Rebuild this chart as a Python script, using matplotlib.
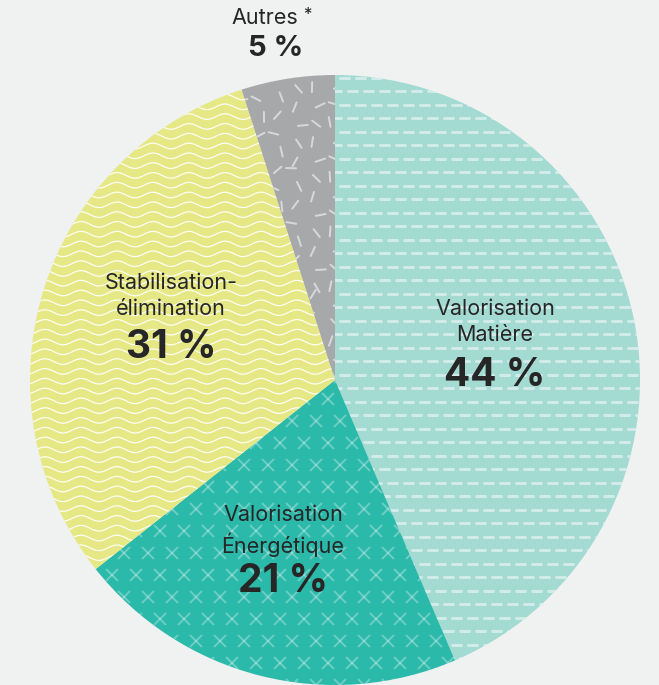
import numpy as np
import matplotlib.pyplot as plt
from matplotlib.collections import LineCollection

# parts du pie, dans le sens horaire depuis le haut
labels = ['Valorisation\nMatière', 'Valorisation\nÉnergétique', 'Stabilisation-\nélimination', 'Autres']
values = [44, 21, 31, 5]
colors = ['#a3dad2', '#2bb9aa', '#e6e886', '#a6a8a9']

W, H = 659, 685
cx, cy, R = 335, H - 380, 305
txt = '#262626'
plt.rcParams['font.family'] = ['Inter', 'DejaVu Sans']

fig = plt.figure(figsize=(W / 100, H / 100), dpi=100)
fig.patch.set_facecolor('#f0f1f1')
ax = fig.add_axes([0, 0, 1, 1])

wedges, _ = ax.pie(values, colors=colors, startangle=90, counterclock=False,
                   center=(cx, cy), radius=R, wedgeprops=dict(linewidth=0))
ax.set_xlim(0, W)
ax.set_ylim(0, H)
ax.set_aspect('equal')
ax.axis('off')

px = 72 / 100  # 1 pixel en points

# motif tirets - Valorisation Matière
segs = []
for k, y in enumerate(np.arange(0, H, 13.5)):
    off = 8 if k % 2 else 0
    for x in np.arange(-20 + off, W, 16):
        segs.append([(x, y), (x + 9, y)])
lc = LineCollection(segs, colors='white', alpha=0.5, linewidths=3 * px, capstyle='round')
ax.add_collection(lc)
lc.set_clip_path(wedges[0])

# motif croix - Valorisation Énergétique
segs = []
for k, y in enumerate(np.arange(0, H, 22)):
    off = 12 if k % 2 else 0
    for x in np.arange(-20 + off, W, 24):
        s = 6
        segs.append([(x - s, y - s), (x + s, y + s)])
        segs.append([(x - s, y + s), (x + s, y - s)])
lc = LineCollection(segs, colors='white', alpha=0.3, linewidths=2 * px)
ax.add_collection(lc)
lc.set_clip_path(wedges[1])

# motif vagues - Stabilisation-élimination
xs = np.linspace(0, W, 600)
segs = [np.column_stack([xs, y + 2.8 * np.sin(2 * np.pi * xs / 36)]) for y in np.arange(0, H, 9.8)]
lc = LineCollection(segs, colors='white', alpha=0.95, linewidths=1.2 * px)
ax.add_collection(lc)
lc.set_clip_path(wedges[2])

# motif confettis - Autres
segs = []
g = 0.618034
n = 0
for y in np.arange(H - 390, H - 60, 18):
    for x in np.arange(225, 345, 18):
        n += 1
        jx = ((n * g) % 1 - 0.5) * 12
        jy = ((n * g * g * 3) % 1 - 0.5) * 12
        a = (n * 2.39996) % np.pi
        dx, dy = 5 * np.cos(a), 5 * np.sin(a)
        segs.append([(x + jx - dx, y + jy - dy), (x + jx + dx, y + jy + dy)])
lc = LineCollection(segs, colors='#dcdddd', alpha=0.9, linewidths=2 * px, capstyle='round')
ax.add_collection(lc)
lc.set_clip_path(wedges[3])

# étiquettes
def label(x, y, name, pct, dy_pct):
    ax.text(x, H - y, name, ha='center', va='center', fontsize=15.5, color=txt, linespacing=1.4)
    ax.text(x, H - y - dy_pct, pct, ha='center', va='center', fontsize=28, fontweight='bold', color=txt)

label(495, 322, labels[0], f'{values[0]} %', 53)
label(283, 531, labels[1], f'{values[1]} %', 51)
label(171, 296, labels[2], f'{values[2]} %', 51)
ax.text(265, H - 18, labels[3], ha='center', va='center', fontsize=15.5, color=txt)
ax.text(307, H - 14, '*', ha='center', va='center', fontsize=12, color=txt)
ax.text(276, H - 48, f'{values[3]} %', ha='center', va='center', fontsize=21, fontweight='bold', color=txt)

fig.savefig('out.png', dpi=100, facecolor=fig.get_facecolor())
